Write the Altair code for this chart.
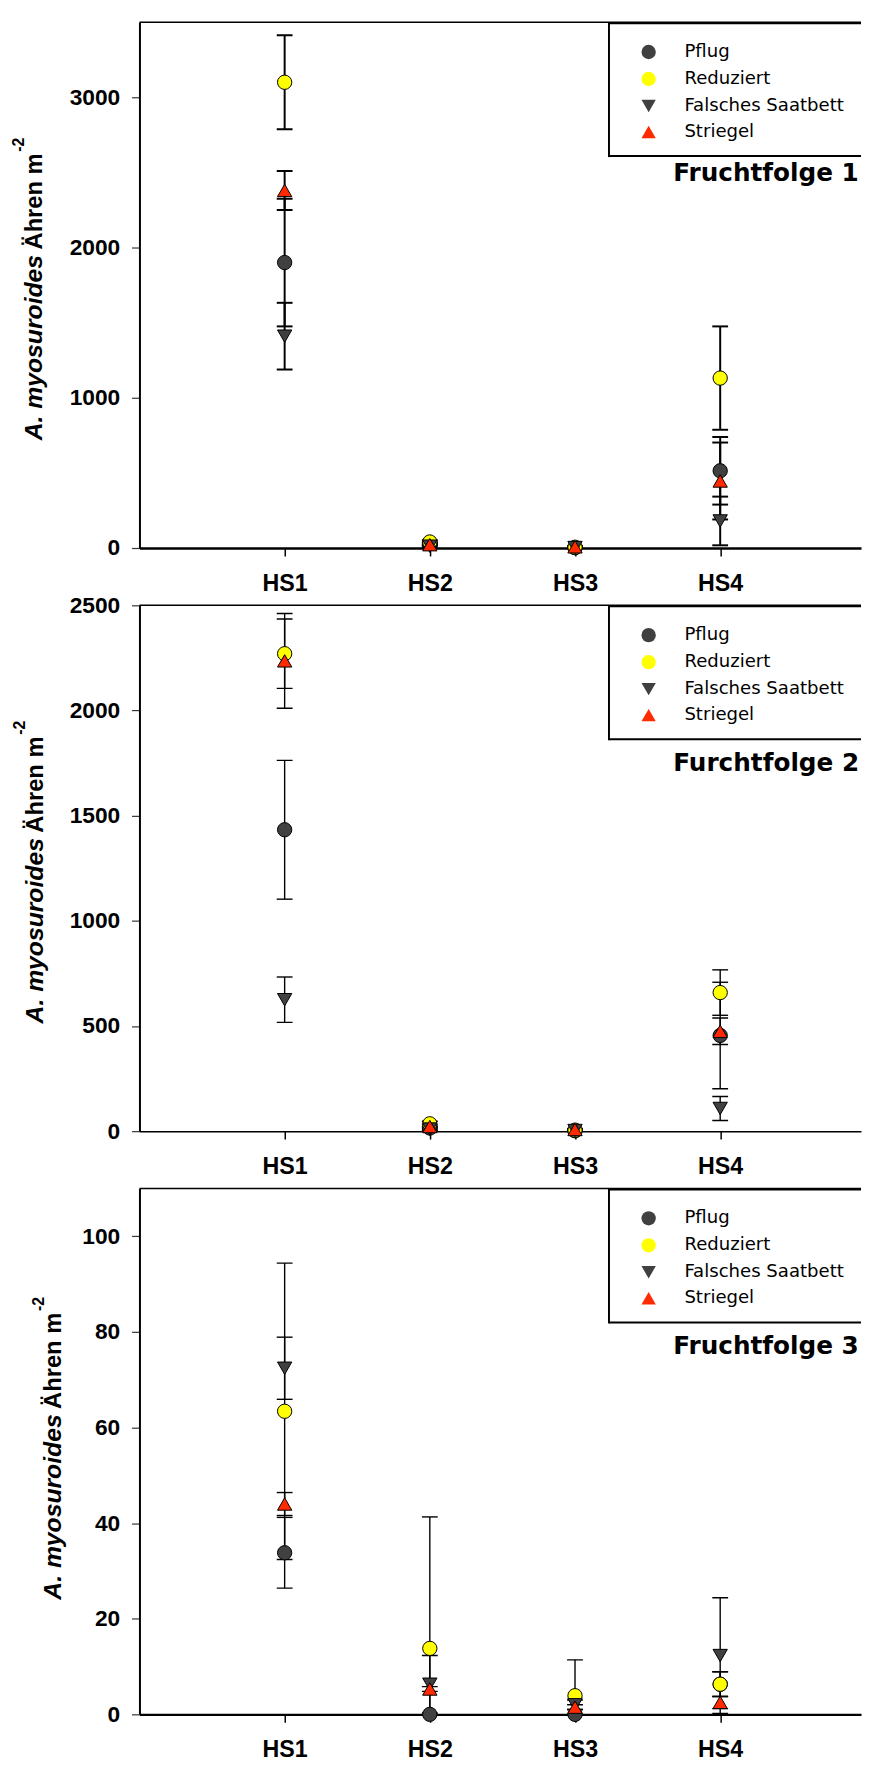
import altair as alt
import pandas as pd

categories = ["HS1", "HS2", "HS3", "HS4"]
series = ["Pflug", "Reduziert", "Falsches Saatbett", "Striegel"]
panel_titles = ["Fruchtfolge 1", "Furchtfolge 2", "Fruchtfolge 3"]

# Fruchtfolge 1 (mean, standard error)
ff1_pflug = [1900, 30, 2, 514]
ff1_pflug_se = [425, 10, 2, 225]
ff1_reduziert = [3100, 40, 5, 1131]
ff1_reduziert_se = [313, 12, 3, 344]
ff1_falsch = [1410, 12, 3, 180]
ff1_falsch_se = [222, 8, 2, 162]
ff1_striegel = [2380, 22, 8, 446]
ff1_striegel_se = [130, 8, 4, 256]

# Furchtfolge 2
ff2_pflug = [1433, 15, 2, 455]
ff2_pflug_se = [330, 8, 2, 253]
ff2_reduziert = [2270, 35, 5, 659]
ff2_reduziert_se = [165, 12, 3, 108]
ff2_falsch = [625, 10, 3, 108]
ff2_falsch_se = [108, 6, 2, 57]
ff2_striegel = [2236, 22, 8, 475]
ff2_striegel_se = [225, 8, 4, 63]

# Fruchtfolge 3
ff3_pflug = [33.8, 0, 0, 6.3]
ff3_pflug_se = [7.4, 0, 0, 2.6]
ff3_reduziert = [63.4, 13.8, 3.9, 6.3]
ff3_reduziert_se = [31.0, 27.5, 7.5, 2.6]
ff3_falsch = [72.4, 6.3, 2.0, 12.3]
ff3_falsch_se = [6.5, 6.0, 1.0, 12.1]
ff3_striegel = [44.0, 5.3, 1.5, 2.5]
ff3_striegel_se = [2.4, 0.5, 0.5, 1.3]

y_ticks = [[0, 1000, 2000, 3000], [0, 500, 1000, 1500, 2000, 2500], [0, 20, 40, 60, 80, 100]]
y_max = [3500, 2500, 110]

panels_data = [
    [(ff1_pflug, ff1_pflug_se), (ff1_reduziert, ff1_reduziert_se), (ff1_falsch, ff1_falsch_se), (ff1_striegel, ff1_striegel_se)],
    [(ff2_pflug, ff2_pflug_se), (ff2_reduziert, ff2_reduziert_se), (ff2_falsch, ff2_falsch_se), (ff2_striegel, ff2_striegel_se)],
    [(ff3_pflug, ff3_pflug_se), (ff3_reduziert, ff3_reduziert_se), (ff3_falsch, ff3_falsch_se), (ff3_striegel, ff3_striegel_se)],
]

fills = ["#404040", "#ffff00", "#404040", "#ff2a00"]
shapes = ["circle", "circle", "triangle-down", "triangle-up"]
sizes = [210, 210, 280, 280]

W, H = 730, 532
label_expr = "[''," + ",".join("'%s'" % c for c in categories) + "][datum.value]"

bar_width = [2, 1.4, 1.4]
xdomain_width = [2.5, 1.5, 2.2]
title_x = [-99, -98, -79]
title_base = [423, 423, 416]
ftitle_y = [161, 168, 167]


def make_panel(i):
    rows = []
    for s, (means, ses) in zip(series, panels_data[i]):
        for ci, c in enumerate(categories):
            rows.append({"series": s, "cat": c, "pos": ci + 1, "mean": means[ci], "se": ses[ci]})
    df = pd.DataFrame(rows)

    xenc = alt.X(
        "pos:Q",
        scale=alt.Scale(domain=[0, 4.97], nice=False, zero=False),
        axis=alt.Axis(
            values=[1, 2, 3, 4], labelExpr=label_expr, title=None, grid=False,
            domainColor="black", domainWidth=xdomain_width[i], tickColor="black",
            tickWidth=1.5, tickSize=8, labelFont="Liberation Sans", labelFontSize=23.5,
            labelFontWeight="bold", labelColor="black", labelPadding=16, labelAngle=0,
        ),
    )
    yscale = alt.Scale(domain=[0, y_max[i]], nice=False, zero=True)
    yaxis = alt.Axis(
        values=y_ticks[i], format="d", title=None, grid=False, domainColor="black",
        domainWidth=2, tickColor="#333333", tickWidth=1.2, tickSize=8,
        labelFont="Liberation Sans", labelFontSize=23, labelFontWeight="bold",
        labelColor="black", labelPadding=12, labelFlush=False,
    )

    base = alt.Chart(df).transform_calculate(
        lo="datum.mean - datum.se", hi="datum.mean + datum.se"
    ).encode(x=xenc)

    leg = alt.Legend(
        orient="none", legendX=506, legendY=21, title=None, padding=0,
        labelFont="DejaVu Sans", labelFontSize=18.3, labelColor="black",
        labelLimit=400, symbolStrokeColor="black", symbolStrokeWidth=1,
        symbolOpacity=1, rowPadding=7.3, labelOffset=27,
    )
    pts = base.mark_point(filled=True, stroke="black", strokeWidth=1, opacity=1).encode(
        y=alt.Y("mean:Q", scale=yscale, axis=yaxis),
        fill=alt.Fill("series:N", scale=alt.Scale(domain=series, range=fills), legend=leg),
        shape=alt.Shape("series:N", scale=alt.Scale(domain=series, range=shapes), legend=leg),
        size=alt.Size("series:N", scale=alt.Scale(domain=series, range=sizes), legend=leg),
    )

    bars = base.mark_rule(color="black", strokeWidth=bar_width[i], clip=True).encode(
        y=alt.Y("lo:Q", scale=yscale, axis=yaxis), y2="hi:Q"
    )
    cap_lo = base.mark_tick(orient="horizontal", color="black", size=16,
                            thickness=bar_width[i], clip=True, opacity=1).encode(
        y=alt.Y("lo:Q", scale=yscale, axis=yaxis)
    )
    cap_hi = base.mark_tick(orient="horizontal", color="black", size=16,
                            thickness=bar_width[i], clip=True, opacity=1).encode(
        y=alt.Y("hi:Q", scale=yscale, axis=yaxis)
    )

    one = pd.DataFrame({"t": [panel_titles[i]]})
    top_border = alt.Chart(one).mark_rule(color="black", strokeWidth=1.5).encode(
        x=alt.value(0), x2=alt.value(W), y=alt.value(0)
    )
    box_top = alt.Chart(one).mark_rule(color="black", strokeWidth=2).encode(
        x=alt.value(475), x2=alt.value(W), y=alt.value(1)
    )
    box_bottom = alt.Chart(one).mark_rule(color="black", strokeWidth=2).encode(
        x=alt.value(475), x2=alt.value(W), y=alt.value(135.5)
    )
    box_left = alt.Chart(one).mark_rule(color="black", strokeWidth=2).encode(
        x=alt.value(475), y=alt.value(0), y2=alt.value(136.5)
    )
    ftitle = alt.Chart(one).mark_text(
        align="left", baseline="alphabetic", font="DejaVu Sans", fontWeight="bold",
        fontSize=25, color="black"
    ).encode(x=alt.value(540), y=alt.value(ftitle_y[i]), text="t:N")

    seg1 = alt.Chart(pd.DataFrame({"t": ["A. myosuroides"]})).mark_text(
        angle=270, align="left", baseline="alphabetic", font="Liberation Sans",
        fontSize=25, fontWeight="bold", fontStyle="italic", color="black"
    ).encode(x=alt.value(title_x[i]), y=alt.value(title_base[i]), text="t:N")
    seg2 = alt.Chart(pd.DataFrame({"t": ["Ähren m"]})).mark_text(
        angle=270, align="left", baseline="alphabetic", font="Liberation Sans",
        fontSize=24, fontWeight="bold", color="black"
    ).encode(x=alt.value(title_x[i]), y=alt.value(title_base[i] - 193), text="t:N")
    seg3 = alt.Chart(pd.DataFrame({"t": ["-2"]})).mark_text(
        angle=270, align="left", baseline="alphabetic", font="Liberation Sans",
        fontSize=16, fontWeight="bold", color="black"
    ).encode(x=alt.value(title_x[i] - 18), y=alt.value(title_base[i] - 292), text="t:N")

    return alt.layer(
        bars, cap_lo, cap_hi, pts, top_border, box_top, box_bottom, box_left,
        ftitle, seg1, seg2, seg3
    ).properties(width=W, height=H)


chart = alt.vconcat(
    make_panel(0), make_panel(1), make_panel(2), spacing=58, bounds="flush"
).resolve_scale(
    y="independent", fill="independent", shape="independent", size="independent"
).resolve_legend(
    fill="independent", shape="independent", size="independent"
).properties(
    padding={"left": 3, "top": 3, "right": 0, "bottom": 0}, background="white"
).configure_view(stroke=None)

chart.save("out.html", embed_options={"renderer": "svg", "actions": False})
